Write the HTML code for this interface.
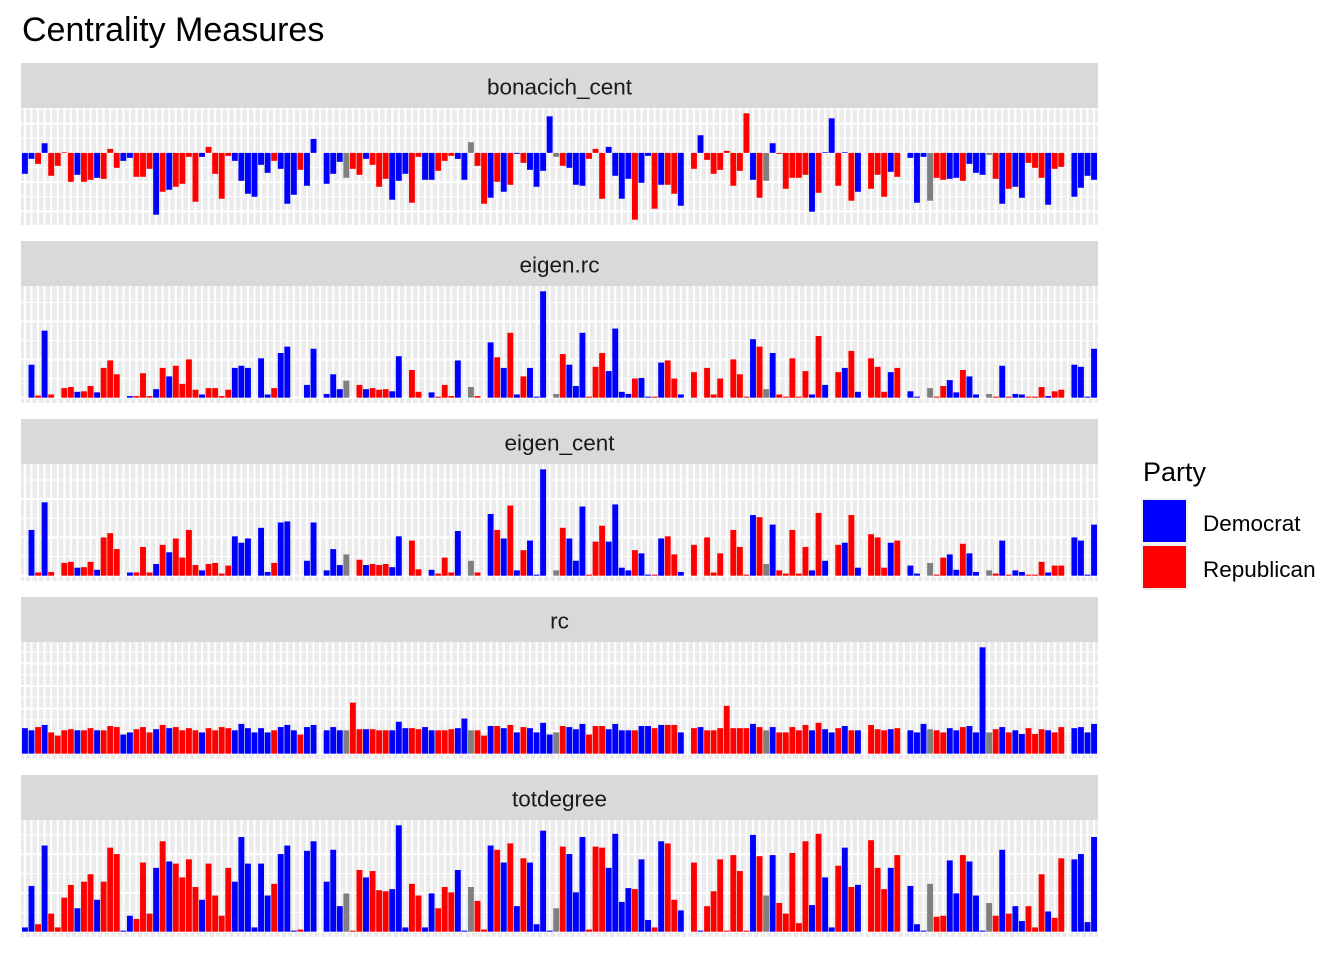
<!DOCTYPE html>
<html><head><meta charset="utf-8"><title>Centrality Measures</title>
<style>
html,body{margin:0;padding:0;background:#fff;}
svg{display:block;font-family:"Liberation Sans",Arial,sans-serif;}
</style></head>
<body>
<svg id="chart" width="1344" height="960" viewBox="0 0 1344 960" xmlns="http://www.w3.org/2000/svg">
<rect x="0" y="0" width="1344" height="960" fill="#ffffff"/>
<text x="22" y="41" font-size="34" fill="#000">Centrality Measures</text>
<g id="panels"></g>
<g>
<text x="1143" y="481" font-size="27" fill="#000">Party</text>
<rect x="1141" y="498" width="47" height="92" fill="#F2F2F2"/>
<rect x="1143" y="500" width="43" height="42" fill="#0000FF"/>
<rect x="1143" y="546" width="43" height="42" fill="#FF0000"/>
<text x="1203" y="531" font-size="22.5" fill="#000">Democrat</text>
<text x="1203" y="577" font-size="22.5" fill="#000">Republican</text>
</g>
</svg>
<script>
const party = "D D R D R R R R D R R D R R R D D R R R D R D R R R R D R R R R D D D D D D R D D D R D D - D D D G R R D R R R D D D R R D D R R R D D G R R D R D R D R D D D D G R D D D R R R D D D D R D D R D R R D - R D R R R R R R R D R G D R R R R R D R D D R D R D - R R R D R - D D D G R R D D R D D D G R D R D D R R R D R R - D D D D".split(" ");

const bonacich = [-0.63,-0.18,-0.33,0.29,-0.69,-0.39,0.02,-0.87,-0.66,-0.87,-0.81,-0.75,-0.78,0.12,-0.45,-0.24,-0.15,-0.72,-0.72,-0.48,-1.86,-1.17,-1.11,-1.02,-0.93,-0.12,-1.47,-0.12,0.18,-0.63,-1.38,-0.09,-0.24,-0.84,-1.23,-1.32,-0.36,-0.60,-0.24,-0.48,-1.53,-1.26,-0.51,-0.99,0.42,0,-0.93,-0.63,-0.27,-0.75,-0.48,-0.66,-0.18,-0.36,-1.02,
-0.78,-1.41,-0.84,-0.63,-1.50,-0.12,-0.81,-0.81,-0.54,-0.24,-0.09,-0.18,-0.81,0.32,-0.39,-1.53,-1.35,-0.87,-1.17,-0.96,-0.03,-0.30,-0.51,-1.02,-0.54,1.10,-0.12,-0.39,-0.45,-0.96,-0.99,-0.18,0.12,-1.38,0.18,-0.69,-1.38,-0.78,-2.01,-0.90,-0.09,-1.68,-0.96,-0.96,-1.23,-1.59,0,-0.48,0.53,-0.21,-0.63,-0.51,0.06,-0.99,
-0.54,1.19,-0.81,-1.35,-0.84,0.29,-0.03,-1.08,-0.75,-0.75,-0.66,-1.77,-1.20,0.02,1.04,-0.99,0.02,-1.44,-1.17,0,-1.08,-0.66,-1.32,-0.57,-0.72,0,-0.15,-1.50,-0.12,-1.44,-0.75,-0.81,-0.78,-0.75,-0.84,-0.33,-0.60,-0.66,-0.06,-0.78,-1.53,-1.08,-1.02,-1.35,-0.30,-0.45,-0.75,-1.56,-0.48,-0.42,0,-1.32,-1.05,-0.69,-0.81];

const eigenRc = [0,31,2,63,3,0,9,10,5.5,6,11,5,28,35,22,0,1.5,1.5,23,1.5,8,28,20,30,13,36,7.5,3,9,9,1.5,7.5,28,30,28,0,37,3,9,42,48,
0,0,12,46,0,3.5,22,8,16,0,12,8,9,7.5,8,6,39,0,26,5.5,0,5,1,12,1.5,35,0,10,1.5,0,52,38,28,61,3,20,28,1,100,0,3.5,41,
31,11,61,1,29,42,25,65,5.5,3.5,18,18.5,1,1,33,35,18,3,0,24,0,28,3,18,0,36,22,1,55,48,8,42,3,1,37,1,25,3,58,12,
0,24,28,44,5.5,0,37,29,5.5,24,28,0,6,1,0,9,1,11,16.5,5,26,20,3,0,3.5,1,30,1,3.5,3,1,1,10,1.5,6,7.5,0,31,29,1,46];

const eigenCent = [0,43,3,69,3.5,0,12,13,7.5,8,13,5.5,36,40,25,0,3,3,27,3,11,29,22,35,17,43,10,5,11,12,2,9.5,37,31,35,0,45,3.5,12,50,51,
0,0,14,50,0,5,25,10,20,0,15,10,11,10,11,8,37,0,33,6,0,5.5,2,17,3,42,0,14,3,0,58,43,35,66,5,24,33,1,100,0,5,45,
35,14,65,1,32,47,32,67,7.5,5,24,21,1,1,35,37,20,3.5,0,29,0,36,3,21,0,43,27,1,57,55,11,48,5,2,43,2,27,5,59,14,
0,29,31,57,7.5,0,39,36,7.5,31,33,0,9.5,2,0,12,1,17,20,5.5,30,21,3.5,0,5,2,33,1,5,3.5,1,1,13,3,9.5,9.5,0,36,33,1,48];

const rc = [24,22,25,27,20,17,22,23,22,22,24,22,22,26,25,18,20,23,25,20,23,27,24,25,22,24,22,20,24,22,25,24,22,28,24,20,24,20,22,25,27,
22,18,25,27,0,22,25,22,22,48,23,23,23,22,22,22,30,24,24,23,25,22,22,22,23,24,33,22,22,17,26,26,24,27,20,25,24,20,29,18,20,26,
25,23,28,18,26,26,23,28,22,22,22,26,26,24,27,27,27,20,0,24,25,22,22,24,45,24,24,24,28,25,22,25,20,20,25,22,27,22,29,23,
20,24,26,22,22,0,27,23,22,23,24,0,22,20,28,23,22,20,24,22,25,26,20,100,20,23,25,20,22,18.5,24,18.5,23,22,20,25,0,24,25,20,28];

const totdegree = [4,43,7,81,17,4,32,44,22,47,54,30,47,79,73,1,15,12,65,17,60,85,66,64,51,68,42,30,64,34,15,60,47,89,64,4,64,34,45,73,81,
1,2,76,85,0,47,77,24,36,1,58,51,57,39,38,40,100,4,45,34,4,36,22,42,37,58,1,42,29,2,81,77,65,83,24,69,65,7,95,1,22,80,
73,37,89,2,80,79,60,92,28,41,40,68,11,4,85,83,30,20,0,65,1,24,38,68,1,72,57,1,91,71,34,72,27,17,74,8,85,25,92,51,
4,62,79,42,44,0,86,60,40,60,72,0,43,7,1,45,14,15,67,36,72,66,34,1,27,15,77,17,24,10,24,4,54,19,13,69,0,68,73,9,89];

const panelTitles = ["bonacich_cent","eigen.rc","eigen_cent","rc","totdegree"];
const gridSteps = [0.44, 17.9, 18, 10.6, 18.2];

const series = [bonacich, eigenRc, eigenCent, rc, totdegree];
const colors = {D:"#0000FF", R:"#FF0000", G:"#808080"};
const NS = "http://www.w3.org/2000/svg";
const root = document.getElementById("panels");
const X0 = 21, X1 = 1098, N = party.length;
const pitch = (X1 - X0) / (N - 1 + 1.2);
const barW = pitch * 0.9;
function xCenter(i){ return X0 + pitch * (0.6 + i); }
function mk(tag, attrs){ const e = document.createElementNS(NS, tag); for (const k in attrs) e.setAttribute(k, attrs[k]); return e; }

series.forEach((vals, p) => {
  const stripTop = 63 + 178 * p, stripH = 45;
  const top = stripTop + stripH, H = 117, bottom = top + H;
  let lo = Math.min(0, ...vals), hi = Math.max(0, ...vals);
  const pad = (hi - lo) * 0.05; lo -= pad; hi += pad;
  const y = v => bottom - (v - lo) / (hi - lo) * H;
  const g = mk("g", {});
  
  
  root.appendChild(g);
  const strip = mk("rect", {x: X0, y: stripTop, width: X1 - X0, height: stripH, fill: "#D9D9D9"});
  
  
  g.appendChild(strip);
  const st = mk("text", {x: (X0 + X1) / 2, y: stripTop + stripH / 2 + 9, "font-size": 22.5, fill: "#1A1A1A", "text-anchor": "middle"});
  st.textContent = panelTitles[p];
  
  
  g.appendChild(st);
  const bg = mk("rect", {x: X0, y: top, width: X1 - X0, height: H, fill: "#EBEBEB"});
  
  
  g.appendChild(bg);
  const step = gridSteps[p];
  for (let k = Math.ceil(lo / step); k * step <= hi; k++) {
    const yy = y(k * step);
    const gl = mk("line", {x1: X0, x2: X1, y1: yy, y2: yy, stroke: "#fff", "stroke-width": (k % 2 === 0) ? 2 : 1});
    
    
    g.appendChild(gl);
  }
  for (let i = 0; i < N; i++) {
    const xx = xCenter(i);
    const vl = mk("line", {x1: xx, x2: xx, y1: top, y2: bottom, stroke: "#fff", "stroke-width": 2});
    
    
    g.appendChild(vl);
  }
  for (let i = 0; i < N; i++) {
    if (!colors[party[i]]) continue;
    const v = vals[i];
    const y0 = y(0), y1 = y(v);
    const r = mk("rect", {x: xCenter(i) - barW / 2, y: Math.min(y0, y1), width: barW, height: Math.abs(y1 - y0), fill: colors[party[i]]});
    
    
    g.appendChild(r);
  }
});
</script>
</body></html>
